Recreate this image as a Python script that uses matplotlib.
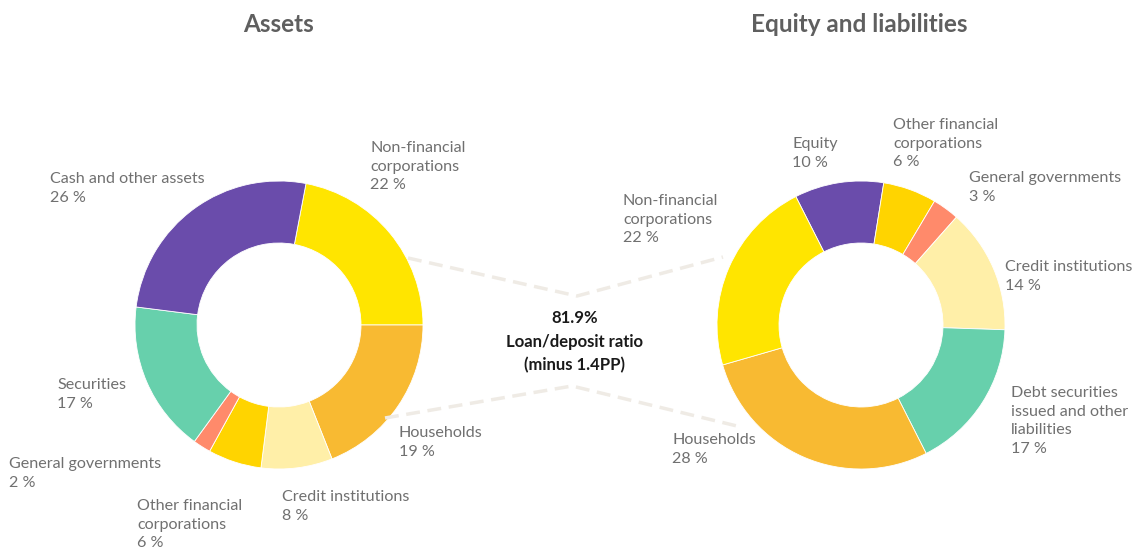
import matplotlib.pyplot as plt

# Данные: активы
asset_labels = ['Non-financial\ncorporations', 'Households', 'Credit institutions',
                'Other financial\ncorporations', 'General governments', 'Securities',
                'Cash and other assets']
asset_values = [22, 19, 8, 6, 2, 17, 26]

# Данные: капитал и обязательства
liab_labels = ['Equity', 'Other financial\ncorporations', 'General governments',
               'Credit institutions', 'Debt securities\nissued and other\nliabilities',
               'Households', 'Non-financial\ncorporations']
liab_values = [10, 6, 3, 14, 17, 28, 22]

ratio_text = ['81.9%', 'Loan/deposit ratio', '(minus 1.4PP)']

# Цвета по категориям
colors = {
    'Non-financial\ncorporations': '#FFE500',
    'Households': '#F8BA32',
    'Credit institutions': '#FFEFA8',
    'Other financial\ncorporations': '#FFD400',
    'General governments': '#FF8A6B',
    'Securities': '#67D0AC',
    'Debt securities\nissued and other\nliabilities': '#67D0AC',
    'Cash and other assets': '#6A4CAB',
    'Equity': '#6A4CAB',
}

# Положения подписей (в пикселях, верх первой строки)
asset_label_pos = [(370, 141), (399, 426), (282, 490), (137, 499), (9, 457), (57, 378), (50, 172)]
liab_label_pos = [(792, 137), (893, 118), (969, 171), (1005, 260), (1011, 386), (672, 433), (623, 194)]

plt.rcParams['font.family'] = ['Lato', 'DejaVu Sans']

fig = plt.figure(figsize=(11.33, 5.47), dpi=100)
ax = fig.add_axes([0, 0, 1, 1])

wedge_style = dict(width=62, edgecolor='white', linewidth=0.6)

# ось y перевернута, поэтому углы зеркальные
ax.pie(asset_values, colors=[colors[l] for l in asset_labels], center=(279, 325),
       radius=144, startangle=-79.2, counterclock=True, wedgeprops=wedge_style)
ax.pie(liab_values, colors=[colors[l] for l in liab_labels], center=(861, 325),
       radius=144, startangle=-116.9, counterclock=True, wedgeprops=wedge_style)

ax.set_xlim(0, 1133)
ax.set_ylim(547, 0)
ax.set_aspect('equal')
ax.axis('off')

label_color = '#707070'
for lab, val, (x, y) in zip(asset_labels, asset_values, asset_label_pos):
    ax.text(x, y, f'{lab}\n{val} %', ha='left', va='top', fontsize=11.6,
            color=label_color, linespacing=1.43)
for lab, val, (x, y) in zip(liab_labels, liab_values, liab_label_pos):
    ax.text(x, y, f'{lab}\n{val} %', ha='left', va='top', fontsize=11.6,
            color=label_color, linespacing=1.43)

# Заголовки
ax.text(279, 25, 'Assets', ha='center', va='center', fontsize=17.5,
        fontweight='bold', color='#5f5f5f')
ax.text(859, 25, 'Equity and liabilities', ha='center', va='center', fontsize=17.5,
        fontweight='bold', color='#5f5f5f')

# Пунктирные линии
line_style = dict(color='#EFEBE5', linewidth=2.5, linestyle=(0, (4, 2.2)))
ax.plot([408, 577, 723], [258, 296, 257], **line_style)
ax.plot([385, 572, 737], [418, 386, 426], **line_style)

# Текст в центре
for i, t in enumerate(ratio_text):
    ax.text(575, 318 + i * 23.5, t, ha='center', va='center', fontsize=12,
            fontweight='bold', color='#1a1a1a')

fig.savefig('out.png', dpi=100)
